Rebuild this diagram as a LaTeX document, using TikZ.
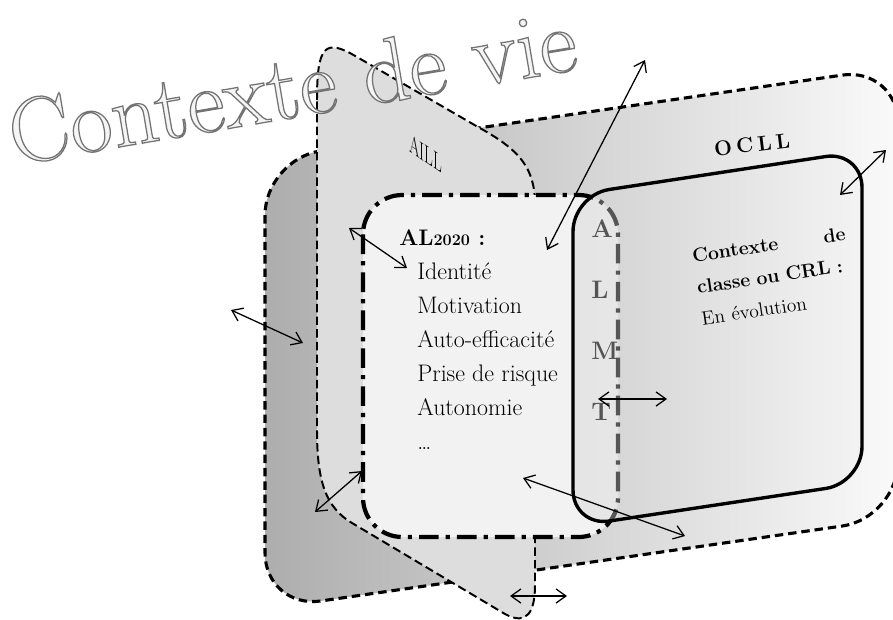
\documentclass[tikz,border=0pt]{standalone}
\usetikzlibrary{arrows.meta}
\definecolor{ctxdark}{gray}{0.68}
\definecolor{ctxlight}{gray}{0.98}
\definecolor{aillgray}{gray}{0.865}
\definecolor{alfill}{gray}{0.95}
\definecolor{ocllleft}{gray}{0.82}
\definecolor{ocllright}{gray}{0.94}
\definecolor{viefill}{gray}{0.96}
\newcommand{\outlinetext}[1]{\special{pdf:literal direct 2 Tr 0.45 G 0.9 w}#1\special{pdf:literal direct 0 Tr}}
\newcommand{\lownum}[1]{{\fontsize{11.5}{12}\selectfont #1}}

\begin{document}
\begin{tikzpicture}[x=0.025cm,y=-0.025cm,
	ctxframe/.style={draw=black,line width=2.2pt,dash pattern=on 6pt off 3.5pt,left color=ctxdark,right color=ctxlight,rounded corners=40pt},
	aillframe/.style={draw=black,line width=1.4pt,dash pattern=on 6pt off 3pt,fill=aillgray},
	alframe/.style={draw=black,line width=3pt,dash pattern=on 14pt off 5pt on 3pt off 5pt,fill=alfill,rounded corners=28pt},
	ocllframe/.style={draw=black,line width=2.4pt,left color=ocllleft,right color=ocllright,fill opacity=0.4,draw opacity=1,rounded corners=26pt},
	link/.style={line width=0.9pt,{Straight Barb[length=7pt,width=10pt]}-{Straight Barb[length=7pt,width=10pt]}},
	item/.style={anchor=base west,inner sep=0pt,font=\fontsize{17}{18}\selectfont},
	almt/.style={anchor=base west,inner sep=0pt,font=\fontsize{18}{20}\selectfont\bfseries}]
	\useasboundingbox (0,0) rectangle (893,619);
	\draw[ctxframe] (265,400) -- (265,159) -- (898,67) -- (898,518) -- (265,609) -- cycle;
	\draw[aillframe] (317,100) .. controls (317,45) and (325,38) .. (357,57) -- (478,127) .. controls (520,150) and (535,168) .. (535,205) -- (535,585) .. controls (535,612) and (527,626) .. (505,614) -- (352,523) .. controls (325,507) and (317,480) .. (317,430) -- cycle;
	\draw[alframe] (363,195) rectangle (618,537);
	\foreach \l [count=\i] in {A,L,M,T}
		\node[almt] (almt\i) at (591,176+61*\i) {\l};
	\draw[ocllframe] (573,360) -- (573,195) -- (862,151) -- (862,483) -- (573,526.5) -- cycle;
	\node[anchor=base west,inner sep=0pt,yslant=-0.68,xscale=0.6,font=\fontsize{18}{20}\selectfont] (aill) at (409,151) {AILL};
	\node[anchor=base,inner sep=0pt,rotate=7,font=\fontsize{15}{17}\selectfont\bfseries] (ocll) at (753,152) {O\hspace{3pt}C\hspace{3pt}L\hspace{3pt}L};
	\node[anchor=base west,inner sep=0pt,font=\fontsize{16}{18}\selectfont\bfseries] (al) at (399,245) {AL\lownum{2020} :};
	\foreach \t [count=\i] in {Identité,Motivation,Auto-efficacité,Prise de risque,Autonomie,\dots}
		\node[item] (item\i) at (417,245+34*\i) {\t};
	\node[anchor=north west,inner sep=0pt,rotate=8.5,text width=110pt,align=left,font=\fontsize{13.8}{22.5}\selectfont] (crl) at (691,249) {\textbf{Contexte\hfill de}\\\textbf{classe ou CRL :}\\En évolution};
	\node[anchor=base west,inner sep=0pt,rotate=9.6,text=viefill,font=\fontsize{65}{75}\selectfont] (vie) at (14,165) {\outlinetext{Contexte de vie}};
	\foreach \xa/\ya/\xb/\yb [count=\i] in {547/250/645/60,349/228/407/268,231/310/303/343,315/512/362/471,523/478/685/536,510/596/567/596,598/399/667/399,840/195/886/150}{
		\coordinate (s\i) at (\xa,\ya);
		\coordinate (e\i) at (\xb,\yb);
		\draw[link] (s\i) -- (e\i);
	}
\end{tikzpicture}
\end{document}
